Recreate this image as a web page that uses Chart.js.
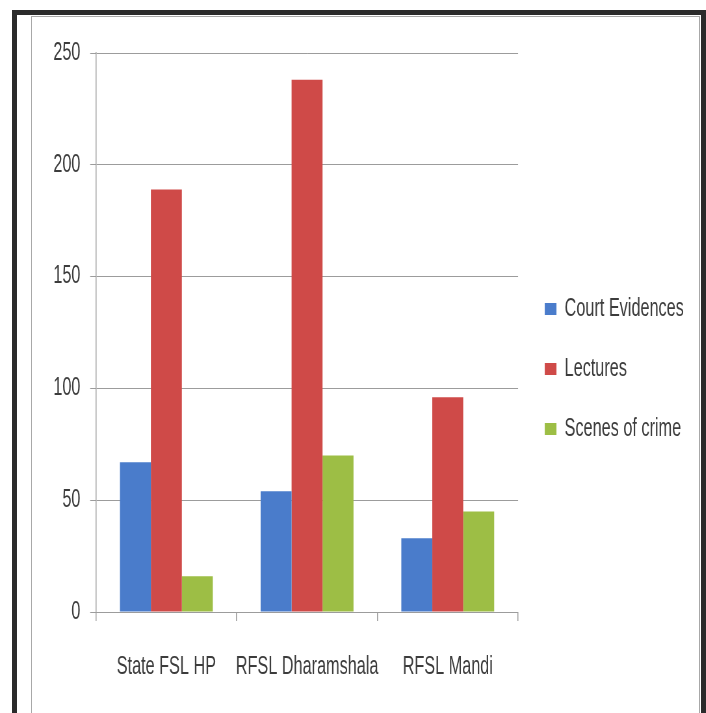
<!DOCTYPE html>
<html>
<head>
<meta charset="utf-8">
<script src="https://cdn.jsdelivr.net/npm/chart.js@4/dist/chart.umd.min.js"></script>
<style>
  html, body { margin: 0; padding: 0; background: #fff; overflow: hidden; width: 706px; height: 713px; }
  #outer {
    position: absolute; left: 12px; top: 10px; width: 684px; height: 720px;
    border: 5px solid #2b2b2b; border-bottom: none;
  }
  #inner {
    position: absolute; left: 31px; top: 16px; width: 667px; height: 720px;
    border: 1px solid #a8a8a8; border-bottom: none;
  }
  /* the original uses a narrow (Calibri-like) face; squeeze the canvas to get that look */
  #chart { position: absolute; left: 0; top: 0; transform: scaleX(0.65); transform-origin: 0 0; }
</style>
</head>
<body>
<div id="outer"></div>
<div id="inner"></div>
<canvas id="chart" width="1086" height="713"></canvas>
<script>
const labs = ['State FSL HP', 'RFSL Dharamshala', 'RFSL Mandi'];
const courtEvidences = [67, 54, 33];
const lectures = [189, 238, 96];
const scenesOfCrime = [16, 70, 45];
const yTicks = [0, 50, 100, 150, 200, 250];

const fontFamily = "'Liberation Sans', Arial, sans-serif";
const textColor = '#3c3c3c';
const gridColor = '#9c9c9c';

// nudge the legend a bit, the original sits it closer to the plot and higher
const legendShift = {
  id: 'legendShift',
  afterLayout(chart) {
    chart.legend.left += 6;
    chart.legend.top -= 14;
    chart.legend.bottom -= 14;
  },
};

const ctx = document.getElementById('chart').getContext('2d');
new Chart(ctx, {
  type: 'bar',
  data: {
    labels: labs,
    datasets: [
      { label: 'Court Evidences', data: courtEvidences, backgroundColor: '#4a7ccb' },
      { label: 'Lectures', data: lectures, backgroundColor: '#cf4a48' },
      { label: 'Scenes of crime', data: scenesOfCrime, backgroundColor: '#9dbe45' },
    ],
  },
  plugins: [legendShift],
  options: {
    responsive: false,
    animation: false,
    categoryPercentage: 0.66,
    barPercentage: 1.0,
    layout: {
      padding: { left: 67, top: 53, right: 30, bottom: 0 },
    },
    plugins: {
      tooltip: { enabled: false },
      legend: {
        position: 'right',
        align: 'center',
        maxWidth: 400,
        labels: {
          boxWidth: 18,
          boxHeight: 12,
          padding: 35,
          color: textColor,
          font: { family: fontFamily, size: 25 },
        },
      },
    },
    scales: {
      x: {
        grid: {
          drawOnChartArea: false,
          drawTicks: true,
          tickLength: 9,
          lineWidth: 1.5,
          color: gridColor,
        },
        border: { display: true, color: gridColor },
        ticks: {
          padding: 31,
          autoSkip: false,
          maxRotation: 0,
          color: textColor,
          font: { family: fontFamily, size: 25 },
        },
      },
      y: {
        min: 0,
        max: 250,
        afterBuildTicks(scale) {
          scale.ticks = yTicks.map((v) => ({ value: v }));
        },
        grid: {
          color: gridColor,
          tickLength: 9,
        },
        border: { display: true, color: gridColor, width: 1.5 },
        ticks: {
          padding: 15,
          color: textColor,
          font: { family: fontFamily, size: 25 },
        },
      },
    },
  },
});
</script>
</body>
</html>
